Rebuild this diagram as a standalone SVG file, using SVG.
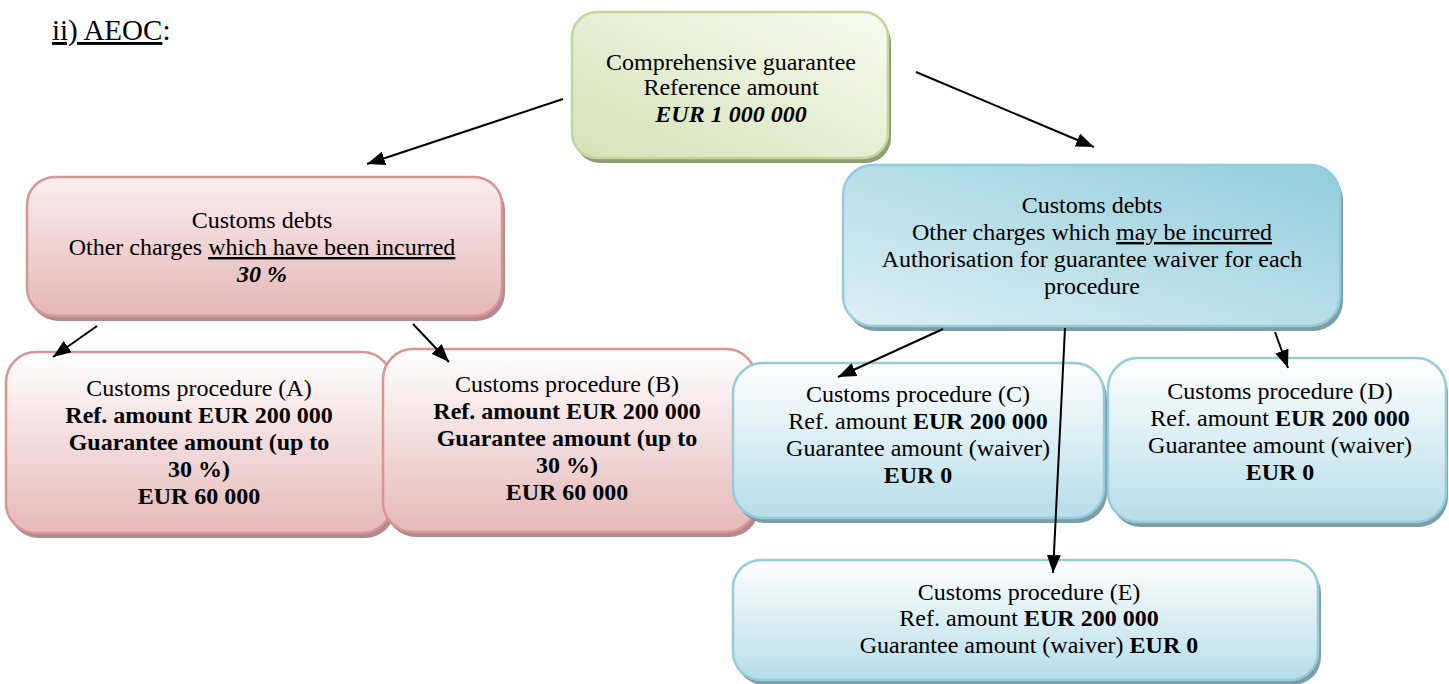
<svg xmlns="http://www.w3.org/2000/svg" width="1449" height="684" viewBox="0 0 1449 684">
<style>
text{font-family:"Liberation Serif","Times New Roman",serif;font-size:24px;fill:#000;text-anchor:middle}
.b{font-weight:bold}
.bi{font-weight:bold;font-style:italic}
.u{text-decoration:underline}
.title{font-size:29px;text-anchor:start}
.g{stroke:#c3d69b;stroke-width:2.5}
.p{stroke:#d99594;stroke-width:2.5}
.c{stroke:#93cddd;stroke-width:2.5}
.sg{fill:#8e9d72}
.sp{fill:#b08b8b}
.sc{fill:#7f9da5}
.conn line{stroke:#000;stroke-width:2;marker-end:url(#ah)}
</style>
<defs>
<linearGradient id="gg" x1="1" y1="0" x2="0" y2="1"><stop offset="0" stop-color="#f8fbf1"/><stop offset="1" stop-color="#d4e2b7"/></linearGradient>
<linearGradient id="gp1" x1="0" y1="0" x2="0" y2="1"><stop offset="0" stop-color="#fbeeee"/><stop offset="1" stop-color="#e4b7b6"/></linearGradient>
<linearGradient id="gp2" x1="0" y1="0" x2="0" y2="1"><stop offset="0" stop-color="#ffffff"/><stop offset="1" stop-color="#e5b9b8"/></linearGradient>
<linearGradient id="gb1" x1="0" y1="1" x2="1" y2="0"><stop offset="0" stop-color="#ddeff4"/><stop offset="1" stop-color="#92cddc"/></linearGradient>
<linearGradient id="gb2" x1="0" y1="0" x2="0" y2="1"><stop offset="0" stop-color="#ffffff"/><stop offset="1" stop-color="#b6dde8"/></linearGradient>
<marker id="ah" markerUnits="userSpaceOnUse" markerWidth="20" markerHeight="14" refX="18" refY="7" orient="auto"><path d="M0,0 L18,7 L0,14 Z" fill="#000"/></marker>
</defs>
<rect width="1449" height="684" fill="#fff"/>
<text class="title" x="52" y="40"><tspan class="u">ii) AEOC</tspan>:</text>
<g id="n-comprehensive">
<rect class="sg" x="575" y="17" width="316" height="146" rx="25"/>
<rect class="g" x="572" y="12" width="316" height="146" rx="25" fill="url(#gg)"/>
<text x="731" y="70">Comprehensive guarantee</text>
<text x="731" y="95">Reference amount</text>
<text class="bi" x="731" y="122">EUR 1 000 000</text>
</g>
<g id="n-incurred">
<rect class="sp" x="30" y="182" width="475" height="139" rx="28"/>
<rect class="p" x="27" y="177" width="475" height="139" rx="28" fill="url(#gp1)"/>
<text x="262" y="228">Customs debts</text>
<text x="262" y="255">Other charges <tspan class="u">which have been incurred</tspan></text>
<text class="bi" x="262" y="282">30 %</text>
</g>
<g id="n-may">
<rect class="sc" x="846" y="170" width="497" height="161" rx="30"/>
<rect class="c" x="843" y="165" width="497" height="161" rx="30" fill="url(#gb1)"/>
<text x="1092" y="213">Customs debts</text>
<text x="1092" y="240">Other charges which <tspan class="u">may be incurred</tspan></text>
<text x="1092" y="267">Authorisation for guarantee waiver for each</text>
<text x="1092" y="294">procedure</text>
</g>
<g id="n-a">
<rect class="sp" x="9" y="357" width="386" height="181" rx="30"/>
<rect class="p" x="6" y="352" width="386" height="181" rx="30" fill="url(#gp2)"/>
<text x="199" y="396">Customs procedure (A)</text>
<text class="b" x="199" y="423">Ref. amount EUR 200 000</text>
<text class="b" x="199" y="450">Guarantee amount (up to</text>
<text class="b" x="199" y="477">30 %)</text>
<text class="b" x="199" y="504">EUR 60 000</text>
</g>
<g id="n-b">
<rect class="sp" x="386" y="354" width="373" height="183" rx="30"/>
<rect class="p" x="383" y="349" width="373" height="183" rx="30" fill="url(#gp2)"/>
<text x="567" y="392">Customs procedure (B)</text>
<text class="b" x="567" y="419">Ref. amount EUR 200 000</text>
<text class="b" x="567" y="446">Guarantee amount (up to</text>
<text class="b" x="567" y="473">30 %)</text>
<text class="b" x="567" y="500">EUR 60 000</text>
</g>
<g id="n-c">
<rect class="sc" x="736" y="368" width="371" height="155" rx="30"/>
<rect class="c" x="733" y="363" width="371" height="155" rx="30" fill="url(#gb2)"/>
<text x="918" y="402">Customs procedure (C)</text>
<text x="918" y="429">Ref. amount <tspan class="b">EUR 200 000</tspan></text>
<text x="918" y="456">Guarantee amount (waiver)</text>
<text class="b" x="918" y="483">EUR 0</text>
</g>
<g id="n-d">
<rect class="sc" x="1111" y="363" width="337" height="164" rx="30"/>
<rect class="c" x="1108" y="358" width="338" height="164" rx="30" fill="url(#gb2)"/>
<text x="1280" y="399">Customs procedure (D)</text>
<text x="1280" y="426">Ref. amount <tspan class="b">EUR 200 000</tspan></text>
<text x="1280" y="453">Guarantee amount (waiver)</text>
<text class="b" x="1280" y="480">EUR 0</text>
</g>
<g id="n-e">
<rect class="sc" x="736" y="565" width="585" height="120" rx="28"/>
<rect class="c" x="733" y="560" width="585" height="120" rx="28" fill="url(#gb2)"/>
<text x="1029" y="600">Customs procedure (E)</text>
<text x="1029" y="626">Ref. amount <tspan class="b">EUR 200 000</tspan></text>
<text x="1029" y="653">Guarantee amount (waiver) <tspan class="b">EUR 0</tspan></text>
</g>
<g id="connectors" class="conn">
<line x1="563" y1="99" x2="367" y2="164"/>
<line x1="916" y1="72" x2="1094" y2="147"/>
<line x1="97" y1="326" x2="53" y2="357"/>
<line x1="413" y1="324" x2="449" y2="362"/>
<line x1="943" y1="329" x2="838" y2="377"/>
<line x1="1275" y1="332" x2="1288" y2="368"/>
<line x1="1065" y1="328" x2="1053" y2="573"/>
</g>
</svg>
